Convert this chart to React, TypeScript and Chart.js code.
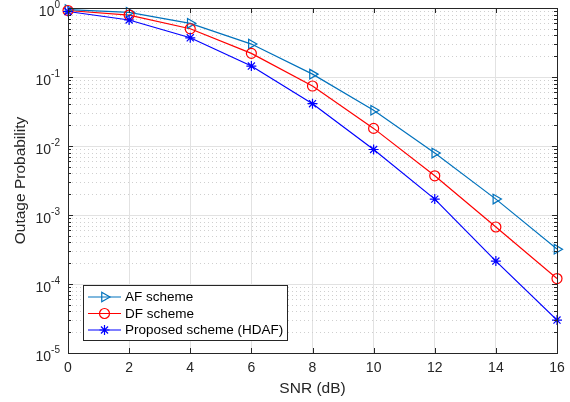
import React, { useEffect, useRef } from 'react';
import { Chart, registerables } from 'chart.js';
Chart.register(...registerables);

const snrDb = [0, 2, 4, 6, 8, 10, 12, 14, 16];
const afScheme = [0.95, 0.865, 0.6, 0.3, 0.11, 0.033, 0.0079, 0.0017, 0.00032];
const dfScheme = [0.92, 0.79, 0.5, 0.22, 0.074, 0.018, 0.0037, 0.00067, 0.00012];
const hdafScheme = [0.89, 0.67, 0.37, 0.144, 0.041, 0.0089, 0.0017, 0.000215, 0.00003];
const xTicks = [0, 2, 4, 6, 8, 10, 12, 14, 16];
const yDecades = [0, -1, -2, -3, -4, -5];
const seriesNames = ['AF scheme', 'DF scheme', 'Proposed scheme (HDAF)'];
const xTitle = 'SNR (dB)';
const yTitle = 'Outage Probability';

const FONT = '"Liberation Sans", Arial, sans-serif';
const TXT = '#262626';

function drawMarker(ctx: CanvasRenderingContext2D, style: string, x: number, y: number, color: string) {
  ctx.save();
  ctx.strokeStyle = color;
  ctx.lineWidth = 1.2;
  ctx.beginPath();
  if (style === 'tri') {
    const r = 5.5;
    ctx.moveTo(x + r, y);
    ctx.lineTo(x - r * 0.5, y - r * 0.87);
    ctx.lineTo(x - r * 0.5, y + r * 0.87);
    ctx.closePath();
  } else if (style === 'circle') {
    ctx.arc(x, y, 5, 0, Math.PI * 2);
  } else {
    const r = 5;
    ctx.moveTo(x - r, y); ctx.lineTo(x + r, y);
    ctx.moveTo(x, y - r); ctx.lineTo(x, y + r);
    const d = r * 0.707;
    ctx.moveTo(x - d, y - d); ctx.lineTo(x + d, y + d);
    ctx.moveTo(x - d, y + d); ctx.lineTo(x + d, y - d);
  }
  ctx.stroke();
  ctx.restore();
}

const markerStyles = ['tri', 'circle', 'star'];
const colors = ['#0072BD', '#FF0000', '#0000FF'];

const gridPlugin = {
  id: 'matlabGrid',
  beforeDatasetsDraw(chart: any) {
    const { ctx, chartArea: a, scales } = chart;
    const y = scales.y;
    ctx.save();
    for (let e = -5; e < 0; e++) {
      for (let m = 2; m <= 9; m++) {
        const py = Math.round(y.getPixelForValue(m * Math.pow(10, e))) + 0.5;
        ctx.strokeStyle = '#cfcfcf';
        ctx.lineWidth = 1;
        ctx.setLineDash([1, 3]);
        ctx.beginPath();
        ctx.moveTo(a.left, py);
        ctx.lineTo(a.right, py);
        ctx.stroke();
      }
    }
    ctx.setLineDash([]);
    for (const e of yDecades) {
      const py = Math.round(y.getPixelForValue(Math.pow(10, e))) + 0.5;
      ctx.strokeStyle = '#e2e2e2';
      ctx.beginPath();
      ctx.moveTo(a.left, py);
      ctx.lineTo(a.right, py);
      ctx.stroke();
    }
    ctx.restore();
  },
  afterDraw(chart: any) {
    const { ctx, chartArea: a, scales } = chart;
    const x = scales.x;
    const y = scales.y;
    ctx.save();
    ctx.strokeStyle = TXT;
    ctx.lineWidth = 1;
    ctx.strokeRect(Math.round(a.left) + 0.5, Math.round(a.top) + 0.5, Math.round(a.right - a.left), Math.round(a.bottom - a.top));
    ctx.beginPath();
    for (const t of xTicks) {
      const px = Math.round(x.getPixelForValue(t)) + 0.5;
      ctx.moveTo(px, a.bottom); ctx.lineTo(px, a.bottom - 5);
      ctx.moveTo(px, a.top); ctx.lineTo(px, a.top + 5);
    }
    for (let e = -5; e <= 0; e++) {
      const py = Math.round(y.getPixelForValue(Math.pow(10, e))) + 0.5;
      ctx.moveTo(a.left, py); ctx.lineTo(a.left + 5, py);
      ctx.moveTo(a.right, py); ctx.lineTo(a.right - 5, py);
      if (e < 0) {
        for (let m = 2; m <= 9; m++) {
          const pm = Math.round(y.getPixelForValue(m * Math.pow(10, e))) + 0.5;
          ctx.moveTo(a.left, pm); ctx.lineTo(a.left + 3, pm);
          ctx.moveTo(a.right, pm); ctx.lineTo(a.right - 3, pm);
        }
      }
    }
    ctx.stroke();
    ctx.fillStyle = TXT;
    for (const e of yDecades) {
      const py = y.getPixelForValue(Math.pow(10, e));
      const exp = String(e);
      ctx.font = `10px ${FONT}`;
      const ew = ctx.measureText(exp).width;
      ctx.textAlign = 'left';
      ctx.textBaseline = 'middle';
      const ex = a.left - 8 - ew;
      ctx.fillText(exp, ex, py - 3);
      ctx.font = `14px ${FONT}`;
      ctx.textAlign = 'right';
      ctx.fillText('10', ex, py + 4.5);
    }
    ctx.font = `14px ${FONT}`;
    ctx.textAlign = 'center';
    ctx.textBaseline = 'middle';
    for (const t of xTicks) {
      ctx.fillText(String(t), x.getPixelForValue(t), a.bottom + 15);
    }
    ctx.font = `15.5px ${FONT}`;
    ctx.fillText(xTitle, (a.left + a.right) / 2, a.bottom + 36);
    ctx.save();
    ctx.translate(21, (a.top + a.bottom) / 2);
    ctx.rotate(-Math.PI / 2);
    ctx.fillText(yTitle, 0, 0);
    ctx.restore();
    const lx = 83.5, ly = 285.5, lw = 204, lh = 55;
    ctx.fillStyle = '#ffffff';
    ctx.fillRect(lx, ly, lw, lh);
    ctx.strokeStyle = TXT;
    ctx.strokeRect(lx, ly, lw, lh);
    const rows = [297, 313.5, 330];
    seriesNames.forEach((name, i) => {
      const ry = rows[i];
      ctx.strokeStyle = colors[i];
      ctx.lineWidth = 1.2;
      ctx.beginPath();
      ctx.moveTo(88, ry); ctx.lineTo(121, ry);
      ctx.stroke();
      drawMarker(ctx, markerStyles[i], 104.5, ry, colors[i]);
      ctx.fillStyle = '#000000';
      ctx.font = `13.5px ${FONT}`;
      ctx.textAlign = 'left';
      ctx.textBaseline = 'middle';
      ctx.fillText(name, 125, ry + 0.5);
    });
    ctx.restore();
  },
};

const markerPlugin = {
  id: 'markers',
  afterDatasetsDraw(chart: any) {
    const { ctx } = chart;
    chart.data.datasets.forEach((ds: any, i: number) => {
      const meta = chart.getDatasetMeta(i);
      meta.data.forEach((pt: any) => drawMarker(ctx, markerStyles[i], pt.x, pt.y, colors[i]));
    });
  },
};

export default function App() {
  const ref = useRef<HTMLCanvasElement>(null);
  useEffect(() => {
    document.body.style.margin = '0';
    const mk = (label: string, data: number[], color: string) => ({
      label,
      data: snrDb.map((s, i) => ({ x: s, y: data[i] })),
      borderColor: color,
      backgroundColor: color,
      borderWidth: 1.2,
      pointRadius: 0,
      tension: 0,
    });
    const chart = new Chart(ref.current!, {
      type: 'line',
      data: {
        datasets: [
          mk(seriesNames[0], afScheme, colors[0]),
          mk(seriesNames[1], dfScheme, colors[1]),
          mk(seriesNames[2], hdafScheme, colors[2]),
        ],
      },
      options: {
        responsive: false,
        animation: false,
        layout: { padding: { left: 0, right: 13, top: 8, bottom: 0 } },
        plugins: { legend: { display: false }, tooltip: { enabled: false } },
        scales: {
          x: {
            type: 'linear',
            min: 0,
            max: 16,
            ticks: { stepSize: 2, display: false },
            grid: { color: '#e2e2e2', drawTicks: false },
            border: { display: false },
            afterFit: (s: any) => { s.height = 49; },
          },
          y: {
            type: 'logarithmic',
            min: 1e-5,
            max: 1,
            ticks: { display: false },
            grid: { display: false, drawTicks: false },
            border: { display: false },
            afterFit: (s: any) => { s.width = 68; },
          },
        },
      },
      plugins: [gridPlugin, markerPlugin],
    });
    return () => chart.destroy();
  }, []);
  return <canvas ref={ref} width={570} height={402} style={{ display: 'block' }} />;
}
